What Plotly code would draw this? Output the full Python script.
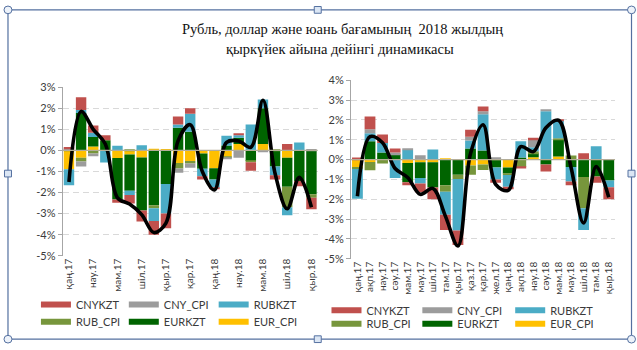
import plotly.graph_objects as go

W, H = 637, 350

# ---------------- data ----------------
months = ["қаң.17", "ақп.17", "нау.17", "сәу.17", "мам.17", "мау.17", "шіл.17",
          "там.17", "қыр.17", "қаз.17", "қар.17", "жел.17", "қаң.18", "ақп.18",
          "нау.18", "сәу.18", "мам.18", "мау.18", "шіл.18", "там.18", "қыр.18"]
left_tick_months = months[::2]

title_line1 = "Рубль, доллар және юань бағамының  2018 жылдың"
title_line2 = "қыркүйек айына дейінгі динамикасы"

# stacking order (closest to zero first)
series_order = ["EUR_CPI", "EURKZT", "RUB_CPI", "RUBKZT", "CNY_CPI", "CNYKZT"]
legend_order = ["CNYKZT", "CNY_CPI", "RUBKZT", "RUB_CPI", "EURKZT", "EUR_CPI"]

# left chart (%)
L_EUR_CPI = [-0.90, -0.35, 0.18, 0.00, -0.36, -0.20, -0.34, 0.08, 0.07, -0.60, -0.50,
             -0.15, -0.85, -0.30, 0.30, 0.00, 0.30, 0.00, -0.35, 0.00, 0.00]
L_EURKZT = [0.00, 1.77, 0.46, 0.48, -1.97, -1.72, -2.51, -2.60, -1.60, 1.08, 0.88,
            -0.72, -0.53, 0.23, 0.30, -0.50, 1.70, -0.77, -1.38, -1.45, -2.08]
L_RUB_CPI = [0.05, -0.18, -0.15, 0.00, 0.00, 0.05, 0.00, -0.15, 0.00, -0.26, -0.12,
             0.00, 0.00, -0.06, 0.00, -0.06, 0.00, 0.06, -0.97, 0.00, -0.17]
L_RUBKZT = [-0.75, 0.15, 0.20, -0.58, 0.22, -0.20, 0.25, -0.60, -1.40, 0.15, 0.86,
            -0.36, -0.39, 0.47, 0.12, 1.23, 0.42, -0.41, -0.38, 0.38, 0.00]
L_CNY_CPI = [0.03, -0.23, -0.13, 0.00, 0.00, 0.00, 0.00, 0.00, 0.00, -0.20, -0.20,
             0.00, 0.00, -0.06, -0.35, 0.00, -0.05, 0.00, 0.00, 0.00, 0.07]
L_CNYKZT = [0.08, 0.60, 0.34, 0.24, -0.15, -0.40, -0.53, -0.65, -0.70, 0.38, 0.26,
            -0.15, -0.08, 0.00, 0.10, -0.41, 0.00, -0.20, 0.30, -0.25, -0.55]
L_TOTAL = [-1.50, 1.85, 1.00, 0.30, -2.25, -2.55, -3.05, -3.90, -3.45, 0.45, 1.22,
           -1.00, -1.88, 0.38, 0.45, 0.15, 2.38, -1.10, -2.77, -1.28, -2.70]

# right chart (%)
R_EUR_CPI = [-0.37, -0.12, 0.00, 0.00, -0.17, -0.13, -0.13, 0.03, 0.00, -0.30, -0.25,
             0.00, -0.40, 0.00, 0.12, 0.00, 0.15, 0.00, 0.00, 0.00, 0.00]
R_EURKZT = [0.00, 0.92, 0.35, 0.27, -0.97, -0.80, -1.28, -1.30, -0.77, 0.56, 0.46,
            -0.40, -0.30, 0.10, 0.20, -0.25, 0.85, -0.37, -0.88, -0.85, -1.05]
R_RUB_CPI = [-0.11, -0.42, -0.20, 0.00, 0.00, 0.00, 0.00, -0.32, -0.21, -0.47, -0.28,
             0.05, -0.08, -0.37, 0.10, 0.00, 0.08, 0.20, -1.57, 0.00, 0.00]
R_RUBKZT = [-1.50, 0.40, 0.48, -0.93, 0.50, -0.27, 0.51, -1.16, -2.60, 0.40, 1.82,
            -0.60, -0.59, 0.82, 0.20, 2.44, 0.88, -0.73, -1.10, 0.67, -0.35]
R_CNY_CPI = [0.00, 0.21, 0.00, 0.08, 0.06, 0.22, 0.00, 0.00, 0.00, 0.19, 0.16,
             0.03, 0.00, 0.00, 0.38, 0.08, 0.00, 0.00, 0.00, 0.00, 0.00]
R_CNYKZT = [0.10, 0.64, 0.43, 0.21, -0.16, -0.45, -0.59, -0.77, -0.72, 0.35, 0.24,
            -0.17, -0.13, -0.08, 0.10, -0.35, 0.04, -0.20, 0.32, -0.32, -0.60]
R_TOTAL = [-1.85, 1.15, 0.85, -0.45, -0.90, -1.75, -1.45, -2.85, -4.35, 0.30, 1.75,
           -1.25, -1.55, 0.65, 0.40, 1.60, 1.98, -0.40, -3.20, -0.35, -1.90]

left_yticks = [3, 2, 1, 0, -1, -2, -3, -4, -5]
left_ytext = ["3%", "2%", "1%", "0%", "-1%", "-2%", "-3%", "-4%", "-5%"]
right_yticks = [4, 3, 2, 1, 0, -1, -2, -3, -4, -5]
right_ytext = ["4%", "3%", "2%", "1%", "0%", "-1%", "-2%", "-3%", "-4%", "-5%"]

left_series = {"EUR_CPI": L_EUR_CPI, "EURKZT": L_EURKZT, "RUB_CPI": L_RUB_CPI,
               "RUBKZT": L_RUBKZT, "CNY_CPI": L_CNY_CPI, "CNYKZT": L_CNYKZT}
right_series = {"EUR_CPI": R_EUR_CPI, "EURKZT": R_EURKZT, "RUB_CPI": R_RUB_CPI,
                "RUBKZT": R_RUBKZT, "CNY_CPI": R_CNY_CPI, "CNYKZT": R_CNYKZT}

colors = {"CNYKZT": "#c0504d", "CNY_CPI": "#9c9c9c", "RUBKZT": "#4bacc6",
          "RUB_CPI": "#77963c", "EURKZT": "#006400", "EUR_CPI": "#ffc000"}

FONT = "Lato"
TXT = "#3a3a3a"


def px_x(x):
    return x / W


def px_y(y):
    return 1 - y / H


fig = go.Figure()

for series, total, xa, ya in [(left_series, L_TOTAL, "x", "y"),
                              (right_series, R_TOTAL, "x2", "y2")]:
    for name in series_order:
        fig.add_trace(go.Bar(x=months, y=series[name], name=name,
                             marker=dict(color=colors[name], line=dict(width=0)),
                             xaxis=xa, yaxis=ya, showlegend=False))
    fig.add_trace(go.Scatter(x=months, y=total, mode="lines",
                             line=dict(color="black", width=3.6, shape="spline",
                                       smoothing=1.0),
                             xaxis=xa, yaxis=ya, showlegend=False))

# legends: one entry each, laid out in a 3x2 grid like the original
legend_layouts = {}
left_swatch_ends = [72, 160, 250]
left_rows = [309, 327]
right_swatch_ends = [363, 454, 547]
right_rows = [315, 329]
idx = 1
for ends, rows, xa, ya in [(left_swatch_ends, left_rows, "x", "y"),
                           (right_swatch_ends, right_rows, "x2", "y2")]:
    for k, name in enumerate(legend_order):
        lname = "legend" if idx == 1 else f"legend{idx}"
        fig.add_trace(go.Scatter(x=[None], y=[None], mode="lines", name=name,
                                 line=dict(color=colors[name], width=6),
                                 xaxis=xa, yaxis=ya, legend=lname, showlegend=True))
        legend_layouts[lname] = dict(
            x=px_x(ends[k % 3] - 37), y=px_y(rows[k // 3]),
            xanchor="left", yanchor="middle", bgcolor="rgba(0,0,0,0)",
            borderwidth=0, font=dict(family=FONT, size=11, color=TXT),
            tracegroupgap=0, itemwidth=30)
        idx += 1

grid = dict(showgrid=True, gridcolor="#d9d9d9", gridwidth=1, griddash="6px,4px")

fig.update_layout(
    width=W, height=H, margin=dict(l=0, r=0, t=0, b=0),
    paper_bgcolor="white", plot_bgcolor="white",
    barmode="relative", bargap=0.14,
    font=dict(family=FONT, color=TXT),
    xaxis=dict(domain=[px_x(62), px_x(317)], type="category", range=[-0.5, 20.5],
               tickmode="array", tickvals=left_tick_months, ticktext=left_tick_months,
               tickangle=-90, tickfont=dict(size=10, color=TXT), showline=False,
               ticks="", showgrid=False, anchor="y", fixedrange=True),
    yaxis=dict(domain=[px_y(258.3), px_y(83.3)], range=[-5, 3], tickmode="array",
               tickvals=left_yticks, ticktext=left_ytext, zeroline=False,
               showline=True, linecolor="#a6a6a6", linewidth=1.3, ticks="outside",
               ticklen=4, tickcolor="#a6a6a6", tickfont=dict(size=11, color=TXT),
               anchor="x", **grid),
    xaxis2=dict(domain=[px_x(350.7), px_x(615)], type="category", range=[-0.5, 20.5],
                tickmode="array", tickvals=months, ticktext=months,
                tickangle=-90, tickfont=dict(size=10, color=TXT), showline=False,
                ticks="", showgrid=False, anchor="y2", fixedrange=True),
    yaxis2=dict(domain=[px_y(261.5), px_y(76)], range=[-5, 4], tickmode="array",
                tickvals=right_yticks, ticktext=right_ytext, zeroline=False,
                showline=True, linecolor="#a6a6a6", linewidth=1.3, ticks="outside",
                ticklen=4, tickcolor="#a6a6a6", tickfont=dict(size=11, color=TXT),
                anchor="x2", **grid),
    **legend_layouts,
)

# zero (category) axis lines
for xa, ya in [("x", "y"), ("x2", "y2")]:
    fig.add_shape(type="line", xref=f"{xa} domain", yref=ya, x0=0, x1=1, y0=0, y1=0,
                  line=dict(color="#b3ad98", width=1.2), layer="above")

# title
fig.add_annotation(text=title_line1, x=px_x(342), y=px_y(23), xref="paper",
                   yref="paper", showarrow=False, xanchor="center", yanchor="middle",
                   font=dict(family="Liberation Serif", size=14.5, color="#111111"))
fig.add_annotation(text=title_line2, x=px_x(340), y=px_y(44), xref="paper",
                   yref="paper", showarrow=False, xanchor="center", yanchor="middle",
                   font=dict(family="Liberation Serif", size=14.5, color="#111111"))

# embedded-object frame with handles
FR = "#5470a0"
fx0, fx1, fy0, fy1 = 7, 631.5, 3, 345
fig.add_shape(type="rect", xref="paper", yref="paper", x0=px_x(fx0), x1=px_x(fx1),
              y0=px_y(fy1), y1=px_y(fy0), line=dict(color=FR, width=1.2),
              fillcolor="rgba(0,0,0,0)", layer="above")
for cx, cy in [(fx0, fy0), (fx1, fy0), (fx0, fy1), (fx1, fy1)]:
    fig.add_shape(type="circle", xref="paper", yref="paper",
                  x0=px_x(cx - 4), x1=px_x(cx + 4), y0=px_y(cy + 4), y1=px_y(cy - 4),
                  line=dict(color=FR, width=1), fillcolor="#eef3fa", layer="above")
for cx, cy in [((fx0 + fx1) / 2 - 2, fy0), ((fx0 + fx1) / 2 - 2, fy1),
               (fx0, 173), (fx1, 173)]:
    fig.add_shape(type="rect", xref="paper", yref="paper",
                  x0=px_x(cx - 3.5), x1=px_x(cx + 3.5), y0=px_y(cy + 3.5),
                  y1=px_y(cy - 3.5), line=dict(color=FR, width=1),
                  fillcolor="#dbe6f4", layer="above")

fig.write_html("out.html")
